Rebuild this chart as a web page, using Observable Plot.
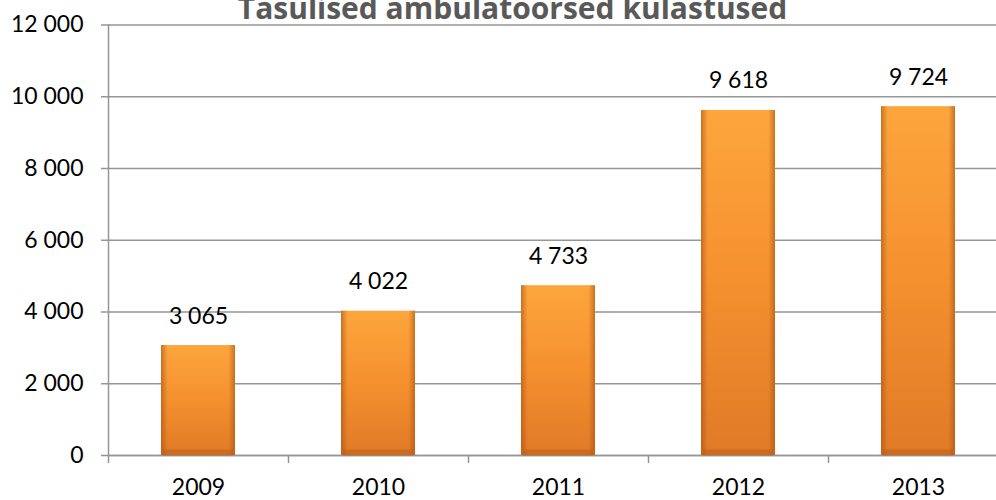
<!DOCTYPE html>
<html>
<head>
<meta charset="utf-8">
<script src="https://cdn.jsdelivr.net/npm/d3@7"></script>
<script src="https://cdn.jsdelivr.net/npm/@observablehq/plot@0.6"></script>
<style>
  html, body { margin: 0; padding: 0; background: #fff; }
  #chart svg { display: block; }
</style>
</head>
<body>
<div id="chart"></div>
<script>
const title = "Tasulised ambulatoorsed külastused";
const years = ["2009", "2010", "2011", "2012", "2013"];
const visits = [3065, 4022, 4733, 9618, 9724];
const yTicks = [0, 2000, 4000, 6000, 8000, 10000, 12000];

const data = years.map((year, i) => ({year, value: visits[i]}));
const fmt = d3.formatLocale({decimal: ",", thousands: " ", grouping: [3], currency: ["", ""]}).format(",");

const FONT = "Lato, 'Open Sans', sans-serif";
const GRID = "#969696";
const step = 180;

const plot = Plot.plot({
  width: 996,
  height: 500,
  marginLeft: 108,
  marginRight: -12,
  marginTop: 24.5,
  marginBottom: 45,
  style: {fontFamily: FONT, fontSize: "23px", color: "#000", background: "#fff", overflow: "hidden"},
  x: {domain: years, range: [108, 1008], paddingInner: 0.589, paddingOuter: 0.2945, label: null},
  y: {domain: [0, 12000], range: [455, 24.5], label: null},
  marks: [
    Plot.gridY(yTicks, {stroke: GRID, strokeOpacity: 1, strokeWidth: 1.5}),
    Plot.axisY(yTicks, {tickSize: 7, tickPadding: 18, stroke: GRID, strokeWidth: 1.5, tickFormat: fmt, fill: "#000", fontSize: 23, label: null}),
    Plot.frame({anchor: "left", stroke: GRID, strokeWidth: 1.5}),
    Plot.ruleX(years, {x: d => d, dx: -step / 2, y1: 0, y2: 0, insetBottom: -8, stroke: GRID, strokeWidth: 1.5}),
    Plot.ruleY([0], {stroke: GRID, strokeWidth: 1.5}),
    Plot.barY(data, {x: "year", y: "value", fill: "url(#barV)"}),
    Plot.barY(data, {x: "year", y: "value", fill: "url(#barH)"}),
    Plot.tickY(data, {x: "year", y: "value", stroke: "url(#bevelTop)", strokeWidth: 8, dy: 4, insetLeft: 1, insetRight: 1}),
    Plot.tickY(data, {x: "year", y: 0, stroke: "#b95c18", strokeOpacity: 0.5, strokeWidth: 6, dy: -3, insetLeft: 2, insetRight: 2}),
    Plot.axisX({tickSize: 0, tickPadding: 23, fontSize: 23, fill: "#000", label: null}),
    Plot.text(data, {x: "year", y: "value", text: d => fmt(d.value), lineAnchor: "bottom", dy: -22, fontSize: 23, fill: "#000"}),
    Plot.text([title], {frameAnchor: "top", dx: -46, dy: -6, lineAnchor: "bottom", fontSize: 30, fontWeight: "bold", fontFamily: "'Open Sans', sans-serif", fill: "#595959"})
  ]
});

const defs = d3.select(plot).insert("defs", ":first-child");
const gv = defs.append("linearGradient").attr("id", "barV").attr("x1", 0).attr("y1", 0).attr("x2", 0).attr("y2", 1);
gv.append("stop").attr("offset", "0%").attr("stop-color", "#fda63d");
gv.append("stop").attr("offset", "50%").attr("stop-color", "#f5902f");
gv.append("stop").attr("offset", "100%").attr("stop-color", "#e07a27");
const gh = defs.append("linearGradient").attr("id", "barH").attr("x1", 0).attr("y1", 0).attr("x2", 1).attr("y2", 0);
gh.append("stop").attr("offset", "0%").attr("stop-color", "#a8500f").attr("stop-opacity", 0.6);
gh.append("stop").attr("offset", "9%").attr("stop-color", "#a8500f").attr("stop-opacity", 0.0);
gh.append("stop").attr("offset", "91%").attr("stop-color", "#a8500f").attr("stop-opacity", 0.0);
gh.append("stop").attr("offset", "100%").attr("stop-color", "#a8500f").attr("stop-opacity", 0.6);
const gt = defs.append("linearGradient").attr("id", "bevelTop").attr("x1", 0).attr("y1", 0).attr("x2", 1).attr("y2", 0);
gt.append("stop").attr("offset", "0%").attr("stop-color", "#f49a3a");
gt.append("stop").attr("offset", "11%").attr("stop-color", "#fec65e");
gt.append("stop").attr("offset", "89%").attr("stop-color", "#fec65e");
gt.append("stop").attr("offset", "100%").attr("stop-color", "#f49a3a");

document.getElementById("chart").appendChild(plot);
</script>
</body>
</html>
